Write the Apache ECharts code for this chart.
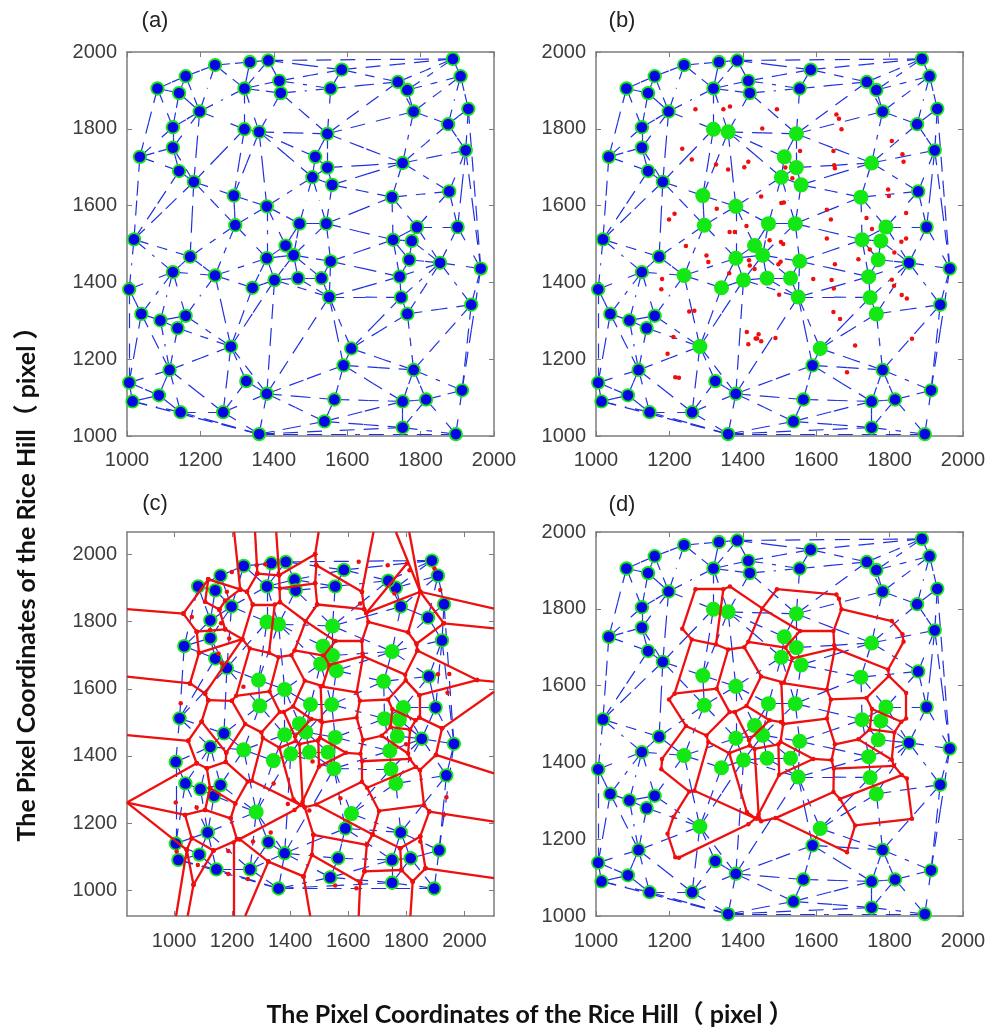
<!DOCTYPE html>
<html><head><meta charset="utf-8">
<style>html,body{margin:0;padding:0;background:#fff}#c{width:992px;height:1031px}</style>
<script src="https://cdn.jsdelivr.net/npm/echarts@6/dist/echarts.min.js"></script>
</head><body><div id="c"></div>
<script>
const panelTitles = ['(a)','(b)','(c)','(d)'];
const axisTitle = 'The Pixel Coordinates of the Rice Hill（ pixel ）';
const tickValues = [1000,1200,1400,1600,1800,2000];
const nodes = [[1888,1982],[1909,1937],[1930,1852],[1875,1812],[1923,1744],[1878,1637],[1901,1544],[1964,1436],[1938,1342],[1913,1119],
[1896,1005],[1815,1095],[1751,1090],[1751,1022],[1781,1172],[1764,1318],[1747,1361],[1743,1415],[1769,1459],[1853,1451],
[1776,1508],[1790,1544],[1725,1511],[1722,1622],[1751,1711],[1781,1845],[1764,1901],[1738,1922],[1585,1954],[1555,1905],
[1546,1787],[1513,1727],[1546,1699],[1505,1674],[1559,1654],[1543,1553],[1470,1553],[1381,1598],[1291,1626],[1295,1549],
[1182,1662],[1142,1690],[1125,1751],[1035,1727],[1125,1804],[1198,1845],[1320,1799],[1360,1792],[1320,1905],[1335,1974],
[1385,1978],[1415,1925],[1419,1893],[1240,1966],[1160,1937],[1083,1905],[1142,1893],[1019,1512],[1172,1467],[1125,1427],
[1240,1418],[1006,1382],[1342,1386],[1381,1463],[1432,1496],[1454,1471],[1402,1406],[1466,1411],[1530,1411],[1555,1455],
[1551,1362],[1039,1318],[1091,1301],[1138,1281],[1160,1313],[1283,1233],[1611,1228],[1590,1184],[1116,1172],[1006,1139],
[1015,1090],[1087,1106],[1146,1062],[1262,1062],[1325,1143],[1381,1110],[1360,1005],[1565,1095],[1538,1038]];
const greenNodes = [46,47,30,31,32,33,34,24,23,38,39,37,36,35,22,21,20,18,17,16,15,69,70,68,67,66,65,64,63,62,60,75,76];
const triEdges = [[0,1],[0,26],[0,27],[0,28],[0,50],[1,2],[1,3],[1,25],[1,26],[2,3],[2,4],[2,7],[3,4],[3,24],[3,25],[4,5],[4,6],[4,7],[4,24],
[5,6],[5,21],[5,23],[5,24],[6,7],[6,19],[6,21],[7,8],[7,9],[7,19],[8,9],[8,14],[8,15],[8,19],[9,10],[9,11],[9,14],[10,11],[10,13],[10,86],
[11,12],[11,13],[11,14],[12,13],[12,14],[12,77],[12,87],[12,88],[13,86],[13,88],[14,15],[14,76],[14,77],[15,16],[15,19],[15,76],
[16,17],[16,19],[16,70],[16,76],[17,18],[17,19],[17,22],[17,69],[17,70],[18,19],[18,20],[18,22],[19,20],[19,21],[20,21],[20,22],[21,22],[21,23],
[22,23],[22,35],[22,69],[23,24],[23,34],[23,35],[24,25],[24,30],[24,32],[24,34],[25,26],[25,27],[25,30],[26,27],[27,28],[27,29],[27,30],
[28,29],[28,50],[28,51],[29,30],[29,51],[29,52],[30,31],[30,32],[30,47],[30,52],[31,32],[31,33],[31,47],[32,33],[32,34],
[33,34],[33,35],[33,36],[33,37],[33,47],[34,35],[35,36],[35,65],[35,69],[36,37],[36,64],[36,65],[37,38],[37,39],[37,47],[37,63],[37,64],
[38,39],[38,40],[38,46],[38,47],[39,40],[39,58],[39,60],[39,63],[40,41],[40,42],[40,45],[40,46],[40,57],[40,58],[41,42],[41,43],[41,57],
[42,43],[42,44],[42,45],[43,44],[43,55],[43,57],[44,45],[44,55],[44,56],[45,46],[45,48],[45,53],[45,54],[45,56],[46,47],[46,48],[47,48],[47,52],
[48,49],[48,50],[48,51],[48,52],[48,53],[49,50],[49,53],[50,51],[51,52],[53,54],[54,55],[54,56],[55,56],[57,58],[57,59],[57,61],[58,59],[58,60],
[59,60],[59,61],[59,71],[59,72],[59,74],[60,62],[60,63],[60,74],[60,75],[61,71],[61,79],[62,63],[62,66],[62,75],[63,64],[63,65],[63,66],[64,65],
[65,66],[65,67],[65,68],[65,69],[66,67],[66,70],[66,75],[66,85],[67,68],[67,70],[68,69],[68,70],[69,70],[70,76],[70,77],[70,85],
[71,72],[71,78],[71,79],[72,73],[72,74],[72,78],[73,74],[73,75],[73,78],[74,75],[75,78],[75,83],[75,84],[75,85],[76,77],[77,85],[77,87],
[78,79],[78,81],[78,82],[78,83],[79,80],[79,81],[80,81],[80,82],[80,86],[81,82],[82,83],[82,86],[83,84],[83,85],[83,86],[84,85],[85,86],[85,87],[85,88],[86,88],[87,88]];
// red Voronoi vertices inside the study region (index 0 is unused so that pairs read 1-based)
const redDots = [null,[1271,1851],[1347,1851],[1365,1858],[1493,1851],[1655,1837],[1662,1826],[1669,1799],[1453,1801],[1806,1768],[1235,1748],
[1261,1720],[1556,1742],[1647,1742],[1835,1734],[1838,1714],[1327,1707],[1360,1694],[1404,1700],[1415,1714],[1516,1699],
[1649,1705],[1651,1697],[1535,1671],[1796,1642],[1798,1625],[1450,1624],[1505,1607],[1512,1608],[1329,1592],[1629,1589],
[1845,1581],[1214,1579],[1199,1564],[1640,1564],[1737,1568],[1410,1547],[1752,1539],[1364,1531],[1378,1531],[1473,1510],
[1504,1505],[1510,1500],[1629,1514],[1832,1506],[1845,1514],[1245,1495],[1746,1486],[1813,1478],[1301,1470],[1306,1453],
[1417,1458],[1419,1444],[1432,1435],[1503,1454],[1497,1447],[1651,1447],[1715,1460],[1363,1424],[1180,1409],[1592,1409],
[1642,1406],[1806,1407],[1178,1382],[1812,1391],[1648,1384],[1499,1368],[1833,1367],[1847,1358],[1254,1324],[1268,1326],
[1647,1323],[1665,1305],[1411,1271],[1443,1265],[1435,1254],[1439,1254],[1450,1247],[1489,1255],[1415,1239],[1211,1258],
[1861,1253],[1706,1236],[1195,1214],[1684,1166],[1216,1153],[1226,1152]];
const innerEdges = [[1,2],[2,16],[16,11],[11,10],[10,1],[2,3],[3,8],[8,19],[19,18],[18,17],[17,16],[8,4],[4,5],[5,6],[6,7],[7,13],[13,12],[12,8],[12,20],[20,19],
[13,21],[21,22],[22,23],[23,20],[23,28],[28,27],[27,30],[22,30],[7,9],[9,14],[14,15],[15,24],[22,24],[24,25],[25,35],[35,34],[34,30],[25,31],[31,45],[45,44],[44,37],[37,35],
[37,47],[47,48],[48,44],[47,57],[57,56],[56,43],[43,34],[57,62],[62,48],[62,64],[64,65],[65,61],[61,56],[65,71],[71,72],[72,67],[64,67],[67,68],[68,81],[81,82],[82,72],
[71,78],[78,84],[84,82],[61,60],[60,54],[43,42],[42,54],[27,42],[18,26],[26,28],[26,36],[36,40],[40,41],[41,42],[17,29],[29,38],[38,39],[39,36],[11,32],[29,32],[32,33],[33,46],
[46,49],[49,38],[46,59],[59,63],[63,69],[69,70],[70,50],[50,49],[50,58],[58,73],[73,75],[39,51],[51,52],[52,58],[40,51],[52,53],[53,55],[55,54],[53,74],[55,66],[66,74],[66,60],
[74,75],[75,76],[76,77],[74,77],[77,78],[70,75],[69,80],[80,83],[83,85],[85,86],[86,79],[79,75]];
// Voronoi segments outside the study region, only shown in panel (c): x1,y1,x2,y2
const outerSegs = [[838,1837,1032,1824],[1032,1824,1118,1926],[1032,1824,1078,1770],[1118,1926,1228,1896],[1118,1926,1107,1859],[1107,1859,1156,1836],[1156,1836,1176,1862],[1176,1862,1228,1896],[1228,1896,1251,1889],[1251,1889,1271,1851],
[1156,1836,1176,1777],[1176,1777,1235,1748],[1078,1770,1176,1777],[1078,1770,1086,1707],[1086,1707,1235,1748],[1086,1707,1055,1616],[1055,1616,838,1636],[1055,1616,1107,1586],[1107,1586,1118,1566],[1107,1586,1235,1748],[1118,1566,1199,1564],[1118,1566,1095,1502],
[1207,2067,1228,1896],[1279,2067,1287,1943],[1287,1943,1251,1889],[1287,1943,1362,1938],[1352,2067,1362,1938],[1362,1938,1365,1858],[1362,1938,1486,2001],[1498,2067,1486,2001],[1486,2001,1490,1968],[1490,1968,1486,1914],[1486,1914,1493,1851],[1486,1914,1365,1899],
[1490,1968,1647,1889],[1687,2067,1647,1889],[1647,1889,1655,1837],[1764,2067,1848,1889],[1810,2067,1848,1889],[1802,1973,1662,1826],[1662,1826,1848,1889],[1848,1889,1806,1768],[1848,1889,1929,1795],[1929,1795,2102,1780],[1848,1889,2102,1839],[1929,1795,1835,1734],
[1838,1714,2044,1626],[2044,1626,2102,1621],[2044,1626,1845,1581],[1845,1514,1923,1482],[1923,1482,2102,1591],[1923,1482,1902,1403],[1902,1403,2102,1348],[1902,1403,1847,1358],[1861,1253,1879,1234],[1879,1234,2102,1204],[1879,1234,1848,1160],[1848,1160,1779,1125],
[1684,1166,1779,1125],[1684,1166,1664,1135],[1664,1135,1480,1165],[1480,1165,1450,1247],[1480,1165,1475,1105],[1475,1105,1641,1023],[1664,1135,1656,1056],[1656,1056,1641,1023],[1656,1056,1783,1060],[1779,1125,1783,1060],[1783,1060,1822,1026],[1822,1026,1866,1065],[1866,1065,1848,1160],[1866,1065,2102,1036],[1822,1026,1814,923],[1641,1023,1636,923],
[1475,1105,1446,1041],[1446,1041,1469,923],[1446,1041,1325,1085],[1226,1152,1325,1085],[1325,1085,1245,923],[1205,1142,1205,923],
[838,1462,1049,1445],[1095,1502,1049,1445],[1095,1502,1180,1409],[1049,1445,1078,1378],[1078,1378,1113,1363],[1113,1363,1178,1382],[1078,1378,838,1261],[838,1261,1038,1224],[838,1261,1044,1120],[1038,1224,1061,1155],[1061,1155,1044,1120],[1061,1155,1136,1118],[1044,1120,1007,923],[1044,1120,1067,1016],[1067,1016,1136,1118],[1067,1016,1047,923],[1136,1118,1226,1152],[1038,1224,1107,1239],[1107,1239,1195,1214],[1107,1239,1124,1304],[1113,1363,1124,1304],[1124,1304,1211,1258]];
const extraDots = [[1199,1948],[1285,1968],[1314,1971],[1061,1814],[1182,1889],[1162,1795],[1124,1775],[1190,1750],[1153,1705],[1164,1676],[1239,1606],[1023,1557],
[1636,1978],[1736,1968],[1811,1953],[1897,1958],[1917,1894],[1759,1884],[1641,1854],[1909,1643],[1948,1644],[1942,1588],
[1006,1261],[1078,1246],[1009,1115],[1082,1075],[1187,1117],[1187,1048],[1254,1033],[1272,1145],[1333,1172],[1343,1318],[1392,1257],[1477,1383],
[1555,1014],[1628,1006],[1573,1274],[1466,1237],[1848,1145],[1938,1277],[1929,1224],[1799,1435]];

const COL = {blue:'#0505e6', line:'#2030e0', green:'#14e814', red:'#ee0f0f', frame:'#7c7c7c', text:'#3c3c3c'};
const panels = [
 {left:127,top:52,width:367,height:384,xr:[1000,2000],yr:[1000,2000],mx:14},
 {left:596,top:52,width:367,height:384,xr:[1000,2000],yr:[1000,2000],mx:14},
 {left:127,top:532,width:367,height:384,xr:[838,2102],yr:[923,2067],mx:15},
 {left:596,top:532,width:367,height:384,xr:[1000,2000],yr:[1000,2000],mx:15}
];
const grid=[],xAxis=[],yAxis=[],series=[];
function axis(kind,p,g,pos,main){
  const r = kind==='x'?p.xr:p.yr;
  return {type:'value',gridIndex:g,position:pos,min:r[0],max:r[1],scale:true,
    axisLine:{show:true,onZero:false,lineStyle:{color:COL.frame,width:1.5}},
    axisTick:{show:true,inside:true,length:5,customValues:tickValues,lineStyle:{color:COL.frame,width:1}},
    splitLine:{show:false},minorTick:{show:false},
    axisLabel:{show:main,customValues:tickValues,formatter:v=>String(v),margin:kind==='x'?p.mx:10,color:COL.text,fontSize:20,fontFamily:'"Liberation Sans",Arial,sans-serif',hideOverlap:false,showMinLabel:true,showMaxLabel:true}};
}
const half = [];
triEdges.forEach(([a,b])=>{
  const A=nodes[a],B=nodes[b],M=[(A[0]+B[0])/2,(A[1]+B[1])/2];
  half.push({coords:[A,M]},{coords:[B,M]});
});
const green = new Set(greenNodes);
const inner = innerEdges.map(([a,b])=>({coords:[redDots[a],redDots[b]]}));
const outer = outerSegs.map(s=>({coords:[[s[0],s[1]],[s[2],s[3]]]}));
const dots = redDots.slice(1);
const outerVerts = [];
outerSegs.forEach(s=>{[[s[0],s[1]],[s[2],s[3]]].forEach(v=>{
  if(v[0]>838&&v[0]<2102&&v[1]>923&&v[1]<2067) outerVerts.push(v);});});

panels.forEach((p,i)=>{
  grid.push({left:p.left,top:p.top,width:p.width,height:p.height,containLabel:false});
  xAxis.push(axis('x',p,i,'bottom',true));
  yAxis.push(axis('y',p,i,'left',true));
  xAxis.push(axis('x',p,i,'top',false));
  yAxis.push(axis('y',p,i,'right',false));
  const ai=i*2;
  const base={xAxisIndex:ai,yAxisIndex:ai,silent:true,animation:false,progressive:0,large:false};
  series.push({...base,type:'lines',coordinateSystem:'cartesian2d',z:2,data:half,
    lineStyle:{color:COL.line,width:1.2,type:[15,9],opacity:1}});
  const useGreen = i>0;
  const blue = nodes.filter((n,k)=>!(useGreen&&green.has(k)));
  series.push({...base,type:'scatter',z:3,symbol:'circle',symbolSize:12.5,data:blue,
    itemStyle:{color:COL.blue,borderColor:COL.green,borderWidth:1.8,opacity:1}});
  if(useGreen){
    series.push({...base,type:'scatter',z:3,symbol:'circle',symbolSize:15,data:greenNodes.map(k=>nodes[k]),
      itemStyle:{color:COL.green,opacity:1}});
  }
  if(i>=2){
    series.push({...base,type:'lines',coordinateSystem:'cartesian2d',z:4,data:i===2?inner.concat(outer):inner,
      lineStyle:{color:COL.red,width:2.3,opacity:1}});
  }
  if(i>=1){
    const d = i===2?dots.concat(extraDots,outerVerts):dots;
    series.push({...base,type:'scatter',z:5,symbol:'circle',symbolSize:4.5,data:d,itemStyle:{color:COL.red,opacity:1}});
  }
});
const F='"Liberation Sans",Arial,sans-serif';
const T='Lato,"Open Sans","Noto Sans CJK SC",sans-serif';
const tpos=[[155,21],[622,21],[155,504],[622,505]];
const graphicEls = panelTitles.map((t,i)=>({type:'text',x:tpos[i][0],y:tpos[i][1],
  style:{text:t,font:'22px '+F,fill:'#222',align:'center',verticalAlign:'middle'}}));
graphicEls.push({type:'text',x:530,y:1015,style:{text:axisTitle,font:'bold 25px '+T,fill:'#111',align:'center',verticalAlign:'middle'}});
graphicEls.push({type:'text',x:27,y:578,rotation:Math.PI/2,style:{text:axisTitle,font:'bold 25px '+T,fill:'#111',align:'center',verticalAlign:'middle'}});

const chart = echarts.init(document.getElementById('c'),null,{renderer:'canvas'});
chart.setOption({animation:false,backgroundColor:'#fff',grid,xAxis,yAxis,series,graphic:{elements:graphicEls}});
</script></body></html>
